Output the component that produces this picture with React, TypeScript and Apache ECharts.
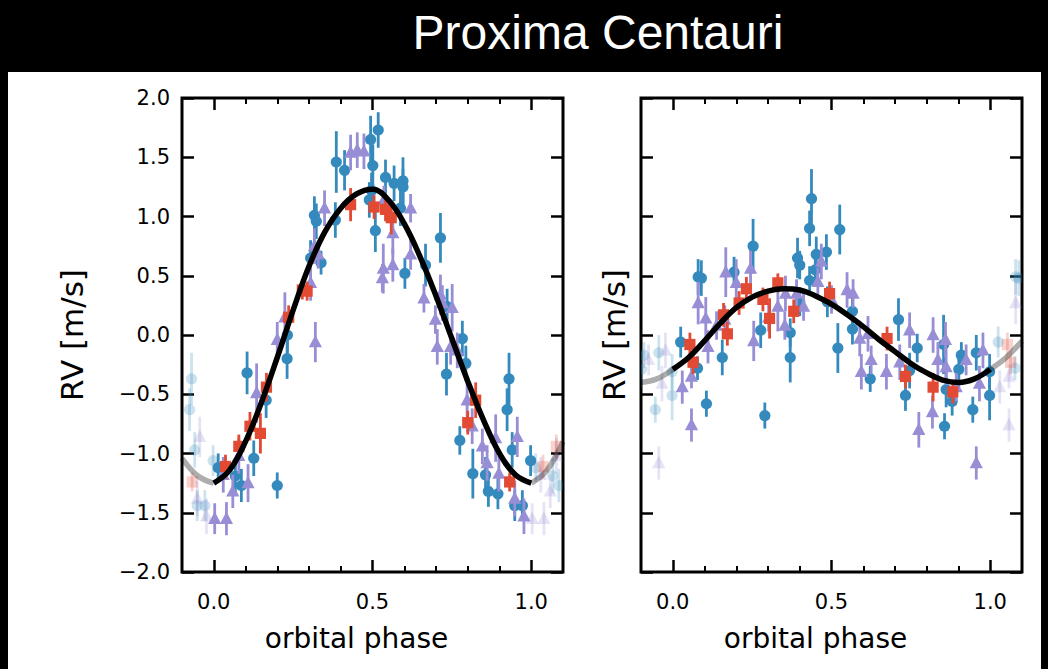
import React, { useEffect, useRef } from "react";
import * as echarts from "echarts";

// ---------- ticks ----------
const X_MAJOR = [0, 0.5, 1.0];
const X_MINOR = [0.1, 0.2, 0.3, 0.4, 0.6, 0.7, 0.8, 0.9];

// ---------- model curves ----------
const MODEL_PHASE = [-0.1, -0.05, 0, 0.05, 0.1, 0.15, 0.2, 0.25, 0.3, 0.35, 0.4, 0.45, 0.5, 0.55, 0.6, 0.65, 0.7, 0.75, 0.8, 0.85, 0.9, 0.95, 1.0, 1.05, 1.1];
const LEFT_MODEL_RV = [-1.04, -1.19, -1.25, -1.14, -0.90, -0.57, -0.19, 0.21, 0.58, 0.87, 1.07, 1.19, 1.23, 1.14, 0.94, 0.66, 0.33, -0.03, -0.39, -0.72, -1.00, -1.18, -1.25, -1.14, -0.90];
const RIGHT_MODEL_RV = [-0.40, -0.37, -0.29, -0.19, -0.05, 0.10, 0.23, 0.32, 0.37, 0.39, 0.38, 0.33, 0.26, 0.17, 0.07, -0.04, -0.14, -0.24, -0.32, -0.38, -0.40, -0.37, -0.29, -0.19, -0.05];

// ---------- left panel data ----------
const L_BLUE_PHASE = [0.386, 0.412, 0.518, 0.494, 0.501, 0.497, 0.490, 0.317, 0.323, 0.383, 0.305, 0.338, 0.232, 0.541, 0.568, 0.596, 0.596, 0.588, 0.509, 0.714, 0.667, 0.602, 0.735, 0.783, 0.231, 0.105, 0.165, 0.126, 0.068, 0.087, 0.014, 0.200, 0.794, 0.733, 0.930, 0.924, 0.775, 0.940, 0.816, 0.856, 0.865, 0.895, 0.998, 0.948, 0.972];
const L_BLUE_RV = [1.46, 1.39, 1.73, 1.65, 1.43, 1.22, 1.14, 1.01, 0.96, 0.97, 0.65, 0.61, 0.00, 1.33, 1.28, 1.30, 1.25, 1.07, 0.88, 0.82, 0.59, 0.52, 0.24, -0.03, -0.20, -0.32, -0.55, -1.04, -1.19, -1.27, -1.12, -1.27, -0.24, -0.33, -0.37, -0.63, -0.89, -0.97, -1.17, -1.18, -1.32, -1.34, -1.06, -1.44, -1.44];
const L_BLUE_ERR = [0.26, 0.17, 0.15, 0.20, 0.18, 0.15, 0.15, 0.16, 0.15, 0.15, 0.15, 0.10, 0.15, 0.15, 0.15, 0.20, 0.15, 0.15, 0.18, 0.21, 0.18, 0.13, 0.15, 0.15, 0.17, 0.18, 0.15, 0.15, 0.15, 0.14, 0.12, 0.11, 0.15, 0.18, 0.22, 0.18, 0.12, 0.15, 0.21, 0.15, 0.13, 0.13, 0.13, 0.13, 0.13];

const L_PURPLE_PHASE = [0.431, 0.452, 0.473, 0.349, 0.317, 0.329, 0.305, 0.224, 0.320, 0.536, 0.564, 0.620, 0.620, 0.534, 0.564, 0.531, 0.662, 0.714, 0.720, 0.751, 0.698, 0.200, 0.135, 0.079, 0.030, 0.060, 0.108, 0.040, 0.003, 0.704, 0.746, 0.767, 0.798, 0.814, 0.846, 0.861, 0.888, 0.898, 0.956, 0.948, 0.977];
const L_PURPLE_RV = [1.54, 1.56, 1.55, 1.07, 0.75, 0.68, 0.44, 0.15, -0.06, 1.14, 0.86, 1.07, 0.68, 0.56, 0.59, 0.48, 0.31, 0.34, 0.27, 0.23, 0.13, -0.04, -0.49, -1.02, -1.18, -1.32, -1.25, -1.55, -1.55, -0.10, -0.10, -0.13, -0.55, -0.77, -0.94, -1.08, -0.87, -1.17, -0.86, -1.38, -1.53];
const L_PURPLE_ERR = [0.15, 0.15, 0.15, 0.15, 0.15, 0.12, 0.15, 0.21, 0.17, 0.12, 0.18, 0.12, 0.13, 0.21, 0.14, 0.12, 0.12, 0.17, 0.15, 0.20, 0.12, 0.15, 0.25, 0.15, 0.15, 0.14, 0.16, 0.14, 0.13, 0.15, 0.15, 0.15, 0.15, 0.15, 0.15, 0.15, 0.20, 0.15, 0.17, 0.15, 0.15];

const L_RED_PHASE = [0.431, 0.279, 0.294, 0.236, 0.505, 0.541, 0.559, 0.166, 0.114, 0.147, 0.079, 0.037, 0.825, 0.800, 0.932];
const L_RED_RV = [1.10, 0.38, 0.37, 0.15, 1.08, 1.06, 0.99, -0.44, -0.77, -0.83, -0.94, -1.11, -0.55, -0.74, -1.24];
const L_RED_ERR = [0.14, 0.08, 0.08, 0.10, 0.10, 0.10, 0.14, 0.12, 0.12, 0.17, 0.10, 0.10, 0.15, 0.10, 0.08];

// ---------- right panel data ----------
const R_BLUE_PHASE = [0.080, 0.090, 0.193, 0.253, 0.025, 0.156, 0.078, 0.106, 0.290, 0.277, 0.370, 0.370, 0.400, 0.393, 0.431, 0.449, 0.484, 0.487, 0.452, 0.520, 0.437, 0.431, 0.400, 0.526, 0.566, 0.566, 0.711, 0.622, 0.770, 0.746, 0.733, 0.853, 0.856, 0.861, 0.880, 0.901, 0.909, 0.945, 0.956, 0.998, 0.998];
const R_BLUE_RV = [0.49, 0.48, 0.53, 0.75, -0.06, -0.19, -0.28, -0.58, -0.68, 0.04, -0.19, 0.02, 0.28, 0.65, 0.46, 0.55, 0.70, 0.28, 0.68, -0.11, 1.15, 0.90, 0.59, 0.89, 0.20, 0.05, 0.13, -0.37, -0.11, -0.30, -0.51, -0.08, -0.77, -0.46, -0.56, -0.29, -0.17, -0.63, -0.15, -0.31, -0.51];
const R_BLUE_ERR = [0.15, 0.15, 0.13, 0.23, 0.13, 0.15, 0.10, 0.11, 0.11, 0.15, 0.21, 0.12, 0.12, 0.17, 0.12, 0.12, 0.15, 0.13, 0.15, 0.21, 0.25, 0.15, 0.12, 0.21, 0.13, 0.13, 0.18, 0.11, 0.12, 0.15, 0.13, 0.25, 0.11, 0.15, 0.12, 0.15, 0.11, 0.11, 0.15, 0.15, 0.21];

const R_PURPLE_PHASE = [0.167, 0.080, 0.104, 0.200, 0.245, 0.164, 0.138, 0.111, 0.030, 0.059, 0.059, 0.255, 0.331, 0.302, 0.353, 0.355, 0.390, 0.412, 0.457, 0.468, 0.500, 0.549, 0.568, 0.589, 0.615, 0.625, 0.594, 0.673, 0.746, 0.715, 0.775, 0.820, 0.859, 0.835, 0.861, 0.818, 0.893, 0.924, 0.977, 0.966, 0.956];
const R_PURPLE_RV = [0.53, 0.27, 0.14, 0.44, 0.56, 0.13, 0.08, -0.10, -0.44, -0.35, -0.76, -0.05, 0.24, 0.15, 0.08, 0.35, 0.35, 0.24, 0.45, 0.62, 0.30, 0.38, 0.35, -0.03, 0.01, -0.21, -0.31, -0.31, 0.04, -0.23, -0.80, 0.00, -0.04, -0.21, -0.27, -0.65, -0.44, -0.21, -0.13, -0.41, -1.08];
const R_PURPLE_ERR = [0.21, 0.18, 0.18, 0.20, 0.15, 0.12, 0.12, 0.14, 0.14, 0.10, 0.14, 0.17, 0.21, 0.12, 0.12, 0.15, 0.12, 0.12, 0.12, 0.15, 0.12, 0.15, 0.12, 0.15, 0.15, 0.12, 0.15, 0.15, 0.15, 0.15, 0.15, 0.15, 0.15, 0.15, 0.15, 0.14, 0.12, 0.13, 0.15, 0.15, 0.14];

const R_RED_PHASE = [0.054, 0.064, 0.160, 0.172, 0.209, 0.232, 0.284, 0.331, 0.305, 0.381, 0.494, 0.675, 0.733, 0.820, 0.882];
const R_RED_RV = [-0.08, -0.23, 0.17, 0.01, 0.27, 0.39, 0.30, 0.44, 0.14, 0.20, 0.35, -0.03, -0.35, -0.44, -0.48];
const R_RED_ERR = [0.10, 0.10, 0.10, 0.10, 0.10, 0.10, 0.10, 0.08, 0.17, 0.10, 0.10, 0.10, 0.10, 0.12, 0.10];

const BLUE = "#348ABD";
const PURPLE = "#988ED5";
const RED = "#E24A33";
const FADE = 0.25;

type Pt = [number, number, number];

function pts(ph: number[], rv: number[], er: number[]): Pt[] {
  return ph.map((p, i) => [p, rv[i], er[i]] as Pt);
}
function wrapped(data: Pt[]): Pt[] {
  const out: Pt[] = [];
  data.forEach((d) => {
    if (d[0] >= 0.9) out.push([d[0] - 1, d[1], d[2]]);
    if (d[0] <= 0.1) out.push([d[0] + 1, d[1], d[2]]);
  });
  return out;
}

function fmt(v: number) {
  const s = Math.abs(v) < 1e-9 ? "0.0" : v.toFixed(1);
  return s.replace("-", "\u2212");
}

function markerSeries(data: Pt[], panel: number, color: string, shape: string, opacity: number) {
  return {
    type: "custom",
    xAxisIndex: panel * 4,
    yAxisIndex: panel * 2,
    clip: true,
    silent: true,
    data,
    renderItem: (_params: any, api: any) => {
      const x = api.value(0);
      const y = api.value(1);
      const e = api.value(2);
      const c = api.coord([x, y]);
      const t = api.coord([x, y + e]);
      const b = api.coord([x, y - e]);
      const children: any[] = [
        {
          type: "line",
          shape: { x1: c[0], y1: t[1], x2: c[0], y2: b[1] },
          style: { stroke: color, lineWidth: 2.8, opacity },
        },
      ];
      if (shape === "circle") {
        children.push({ type: "circle", shape: { cx: c[0], cy: c[1], r: 5.6 }, style: { fill: color, opacity } });
      } else if (shape === "square") {
        children.push({ type: "rect", shape: { x: c[0] - 5.6, y: c[1] - 5.6, width: 11.2, height: 11.2 }, style: { fill: color, opacity } });
      } else {
        children.push({
          type: "polygon",
          shape: { points: [[c[0], c[1] - 7.2], [c[0] - 6.6, c[1] + 5.2], [c[0] + 6.6, c[1] + 5.2]] },
          style: { fill: color, opacity },
        });
      }
      return { type: "group", children };
    },
  };
}

function curveSeries(panel: number, rv: number[], from: number, to: number, color: string) {
  const data: number[][] = [];
  for (let i = from; i <= to; i++) data.push([MODEL_PHASE[i], rv[i]]);
  return {
    type: "line",
    xAxisIndex: panel * 4,
    yAxisIndex: panel * 2,
    data,
    smooth: 0.4,
    showSymbol: false,
    silent: true,
    lineStyle: { color, width: 5.5 },
  };
}

const LABEL_FONT = { fontSize: 21, fontFamily: "DejaVu Sans", color: "#000" };
const XNAME_FONT = { fontSize: 28, fontFamily: "DejaVu Sans", color: "#000", padding: [0, 32, 0, 0] };
const YNAME_FONT = { fontSize: 31, fontFamily: "DejaVu Sans", color: "#000" };

function xAxes(grid: number) {
  const base = {
    type: "value",
    gridIndex: grid,
    min: -0.1,
    max: 1.1,
    splitLine: { show: false },
    axisLine: { show: false, onZero: false },
  };
  const major = { show: true, inside: true, length: 12, customValues: X_MAJOR, lineStyle: { color: "#000", width: 2.5 } };
  const minor = { show: true, inside: true, length: 6, customValues: X_MINOR, lineStyle: { color: "#000", width: 2 } };
  return [
    {
      ...base,
      position: "bottom",
      axisTick: major,
      axisLabel: { show: true, customValues: X_MAJOR, formatter: fmt, margin: 19, ...LABEL_FONT },
      name: "orbital phase",
      nameLocation: "middle",
      nameGap: 52,
      nameTextStyle: XNAME_FONT,
    },
    { ...base, position: "bottom", axisTick: minor, axisLabel: { show: false } },
    { ...base, position: "top", axisTick: major, axisLabel: { show: false } },
    { ...base, position: "top", axisTick: minor, axisLabel: { show: false } },
  ];
}

function yAxes(grid: number, labels: boolean, nameGap: number) {
  const base = {
    type: "value",
    gridIndex: grid,
    min: -2,
    max: 2,
    interval: 0.5,
    splitLine: { show: false },
    axisLine: { show: false, onZero: false },
    axisTick: { show: true, inside: true, length: 12, lineStyle: { color: "#000", width: 2.5 } },
  };
  return [
    {
      ...base,
      position: "left",
      axisLabel: { show: labels, formatter: fmt, margin: 12, ...LABEL_FONT },
      name: "RV [m/s]",
      nameLocation: "middle",
      nameGap,
      nameRotate: 90,
      nameTextStyle: YNAME_FONT,
    },
    { ...base, position: "right", axisLabel: { show: false } },
  ];
}

function panelSeries(panel: number, modelRv: number[], blue: Pt[], purple: Pt[], red: Pt[]) {
  return [
    curveSeries(panel, modelRv, 0, 2, "rgba(0,0,0,0.32)"),
    curveSeries(panel, modelRv, 22, 24, "rgba(0,0,0,0.32)"),
    markerSeries(wrapped(blue), panel, BLUE, "circle", FADE),
    markerSeries(wrapped(purple), panel, PURPLE, "triangle", FADE),
    markerSeries(wrapped(red), panel, RED, "square", FADE),
    curveSeries(panel, modelRv, 2, 22, "#000"),
    markerSeries(blue, panel, BLUE, "circle", 1),
    markerSeries(purple, panel, PURPLE, "triangle", 1),
    markerSeries(red, panel, RED, "square", 1),
  ];
}

export default function App() {
  const ref = useRef<HTMLDivElement>(null);
  useEffect(() => {
    if (!ref.current) return;
    const chart = echarts.init(ref.current, undefined, { renderer: "svg" });
    const lb = pts(L_BLUE_PHASE, L_BLUE_RV, L_BLUE_ERR);
    const lp = pts(L_PURPLE_PHASE, L_PURPLE_RV, L_PURPLE_ERR);
    const lr = pts(L_RED_PHASE, L_RED_RV, L_RED_ERR);
    const rb = pts(R_BLUE_PHASE, R_BLUE_RV, R_BLUE_ERR);
    const rp = pts(R_PURPLE_PHASE, R_PURPLE_RV, R_PURPLE_ERR);
    const rr = pts(R_RED_PHASE, R_RED_RV, R_RED_ERR);
    chart.setOption({
      animation: false,
      backgroundColor: "#000",
      graphic: [
        { type: "rect", z: -10, silent: true, shape: { x: 8, y: 72, width: 1033, height: 597 }, style: { fill: "#fff" } },
        {
          type: "text",
          x: 598,
          y: 32,
          silent: true,
          style: { text: "Proxima Centauri", fill: "#fff", fontSize: 48, fontFamily: "Liberation Sans", align: "center", verticalAlign: "middle" },
        },
      ],
      grid: [
        { left: 182, top: 98, width: 381, height: 474, show: true, borderColor: "#000", borderWidth: 3, backgroundColor: "transparent" },
        { left: 641, top: 98, width: 381, height: 474, show: true, borderColor: "#000", borderWidth: 3, backgroundColor: "transparent" },
      ],
      xAxis: [...xAxes(0), ...xAxes(1)],
      yAxis: [...yAxes(0, true, 95), ...yAxes(1, false, 12)],
      series: [...panelSeries(0, LEFT_MODEL_RV, lb, lp, lr), ...panelSeries(1, RIGHT_MODEL_RV, rb, rp, rr)],
    });
    return () => chart.dispose();
  }, []);
  return <div ref={ref} style={{ position: "fixed", left: 0, top: 0, width: 1048, height: 669 }} />;
}
